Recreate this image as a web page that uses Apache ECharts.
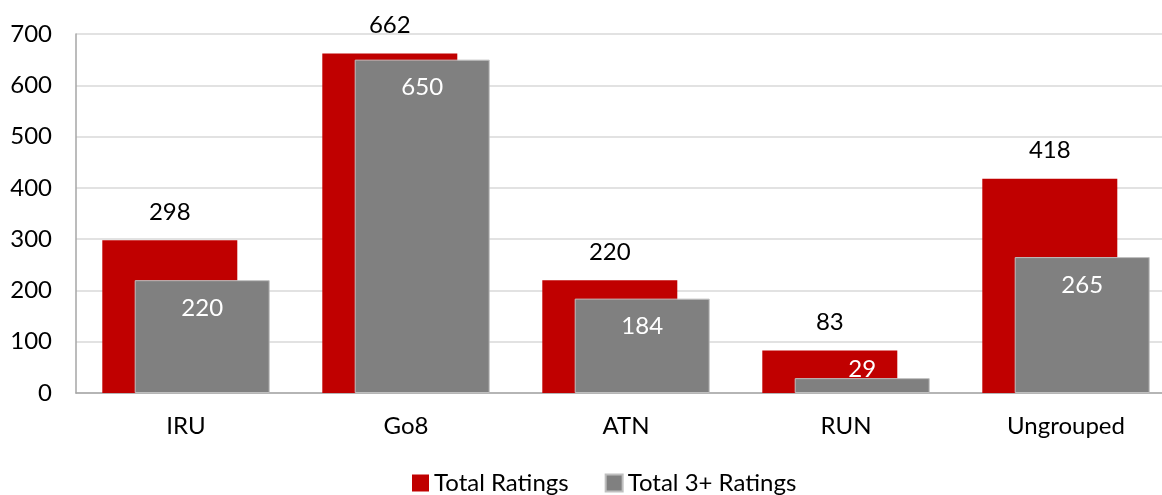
<!DOCTYPE html>
<html>
<head>
<meta charset="utf-8">
<script src="https://cdn.jsdelivr.net/npm/echarts@6/dist/echarts.min.js"></script>
<style>
  html, body { margin: 0; padding: 0; background: #fff; overflow: hidden; }
  /* the plot area runs past the right edge in the original, so the chart is a bit wider than the window */
  #main { width: 1176px; height: 495px; }
</style>
</head>
<body>
<div id="main"></div>
<script>
var categories = ['IRU', 'Go8', 'ATN', 'RUN', 'Ungrouped'];
var totalRatings = [298, 662, 220, 83, 418];
var total3Ratings = [220, 650, 184, 29, 265];
var seriesNames = ['Total Ratings', 'Total 3+ Ratings'];

var chartDom = document.getElementById('main');
var myChart = echarts.init(chartDom);
var font = 'Lato, "Open Sans", sans-serif';

// small values: label sits just above the bar (as in the original)
var grayData = total3Ratings.map(function (v) {
    if (v < 60) {
        return { value: v, label: { position: 'top', distance: -3 } };
    }
    return v;
});

var option = {
    animation: false,
    textStyle: { fontFamily: font },
    color: ['#C00000', '#808080'],
    legend: {
        top: 466,
        left: 407,
        itemWidth: 17,
        itemHeight: 17,
        itemGap: 36,
        icon: 'rect',
        data: seriesNames,
        textStyle: { fontSize: 24, color: '#000', fontFamily: font }
    },
    grid: {
        left: 76,
        right: 0,
        top: 34,
        bottom: 102
    },
    xAxis: {
        type: 'category',
        data: categories,
        axisTick: { show: false },
        axisLine: { lineStyle: { color: '#A6A6A6', width: 1.5 } },
        axisLabel: { fontSize: 24, color: '#000', margin: 21, fontFamily: font }
    },
    yAxis: {
        type: 'value',
        min: 0,
        max: 700,
        interval: 100,
        axisLine: { show: true, lineStyle: { color: '#A6A6A6', width: 1.5 } },
        axisTick: { show: false },
        splitLine: { lineStyle: { color: '#D9D9D9', width: 1.5 } },
        axisLabel: { fontSize: 24, color: '#000', margin: 24, fontFamily: font }
    },
    series: [
        {
            name: seriesNames[0],
            type: 'bar',
            data: totalRatings,
            barWidth: 135,
            barGap: '-76%',
            label: {
                show: true,
                position: 'top',
                distance: 16,
                fontSize: 24,
                color: '#000',
                fontFamily: font
            }
        },
        {
            name: seriesNames[1],
            type: 'bar',
            data: grayData,
            barWidth: 135,
            itemStyle: { borderColor: '#BFBFBF', borderWidth: 1 },
            label: {
                show: true,
                position: 'insideTop',
                distance: 16,
                fontSize: 24,
                color: '#fff',
                fontFamily: font
            }
        }
    ]
};

option && myChart.setOption(option);
</script>
</body>
</html>
